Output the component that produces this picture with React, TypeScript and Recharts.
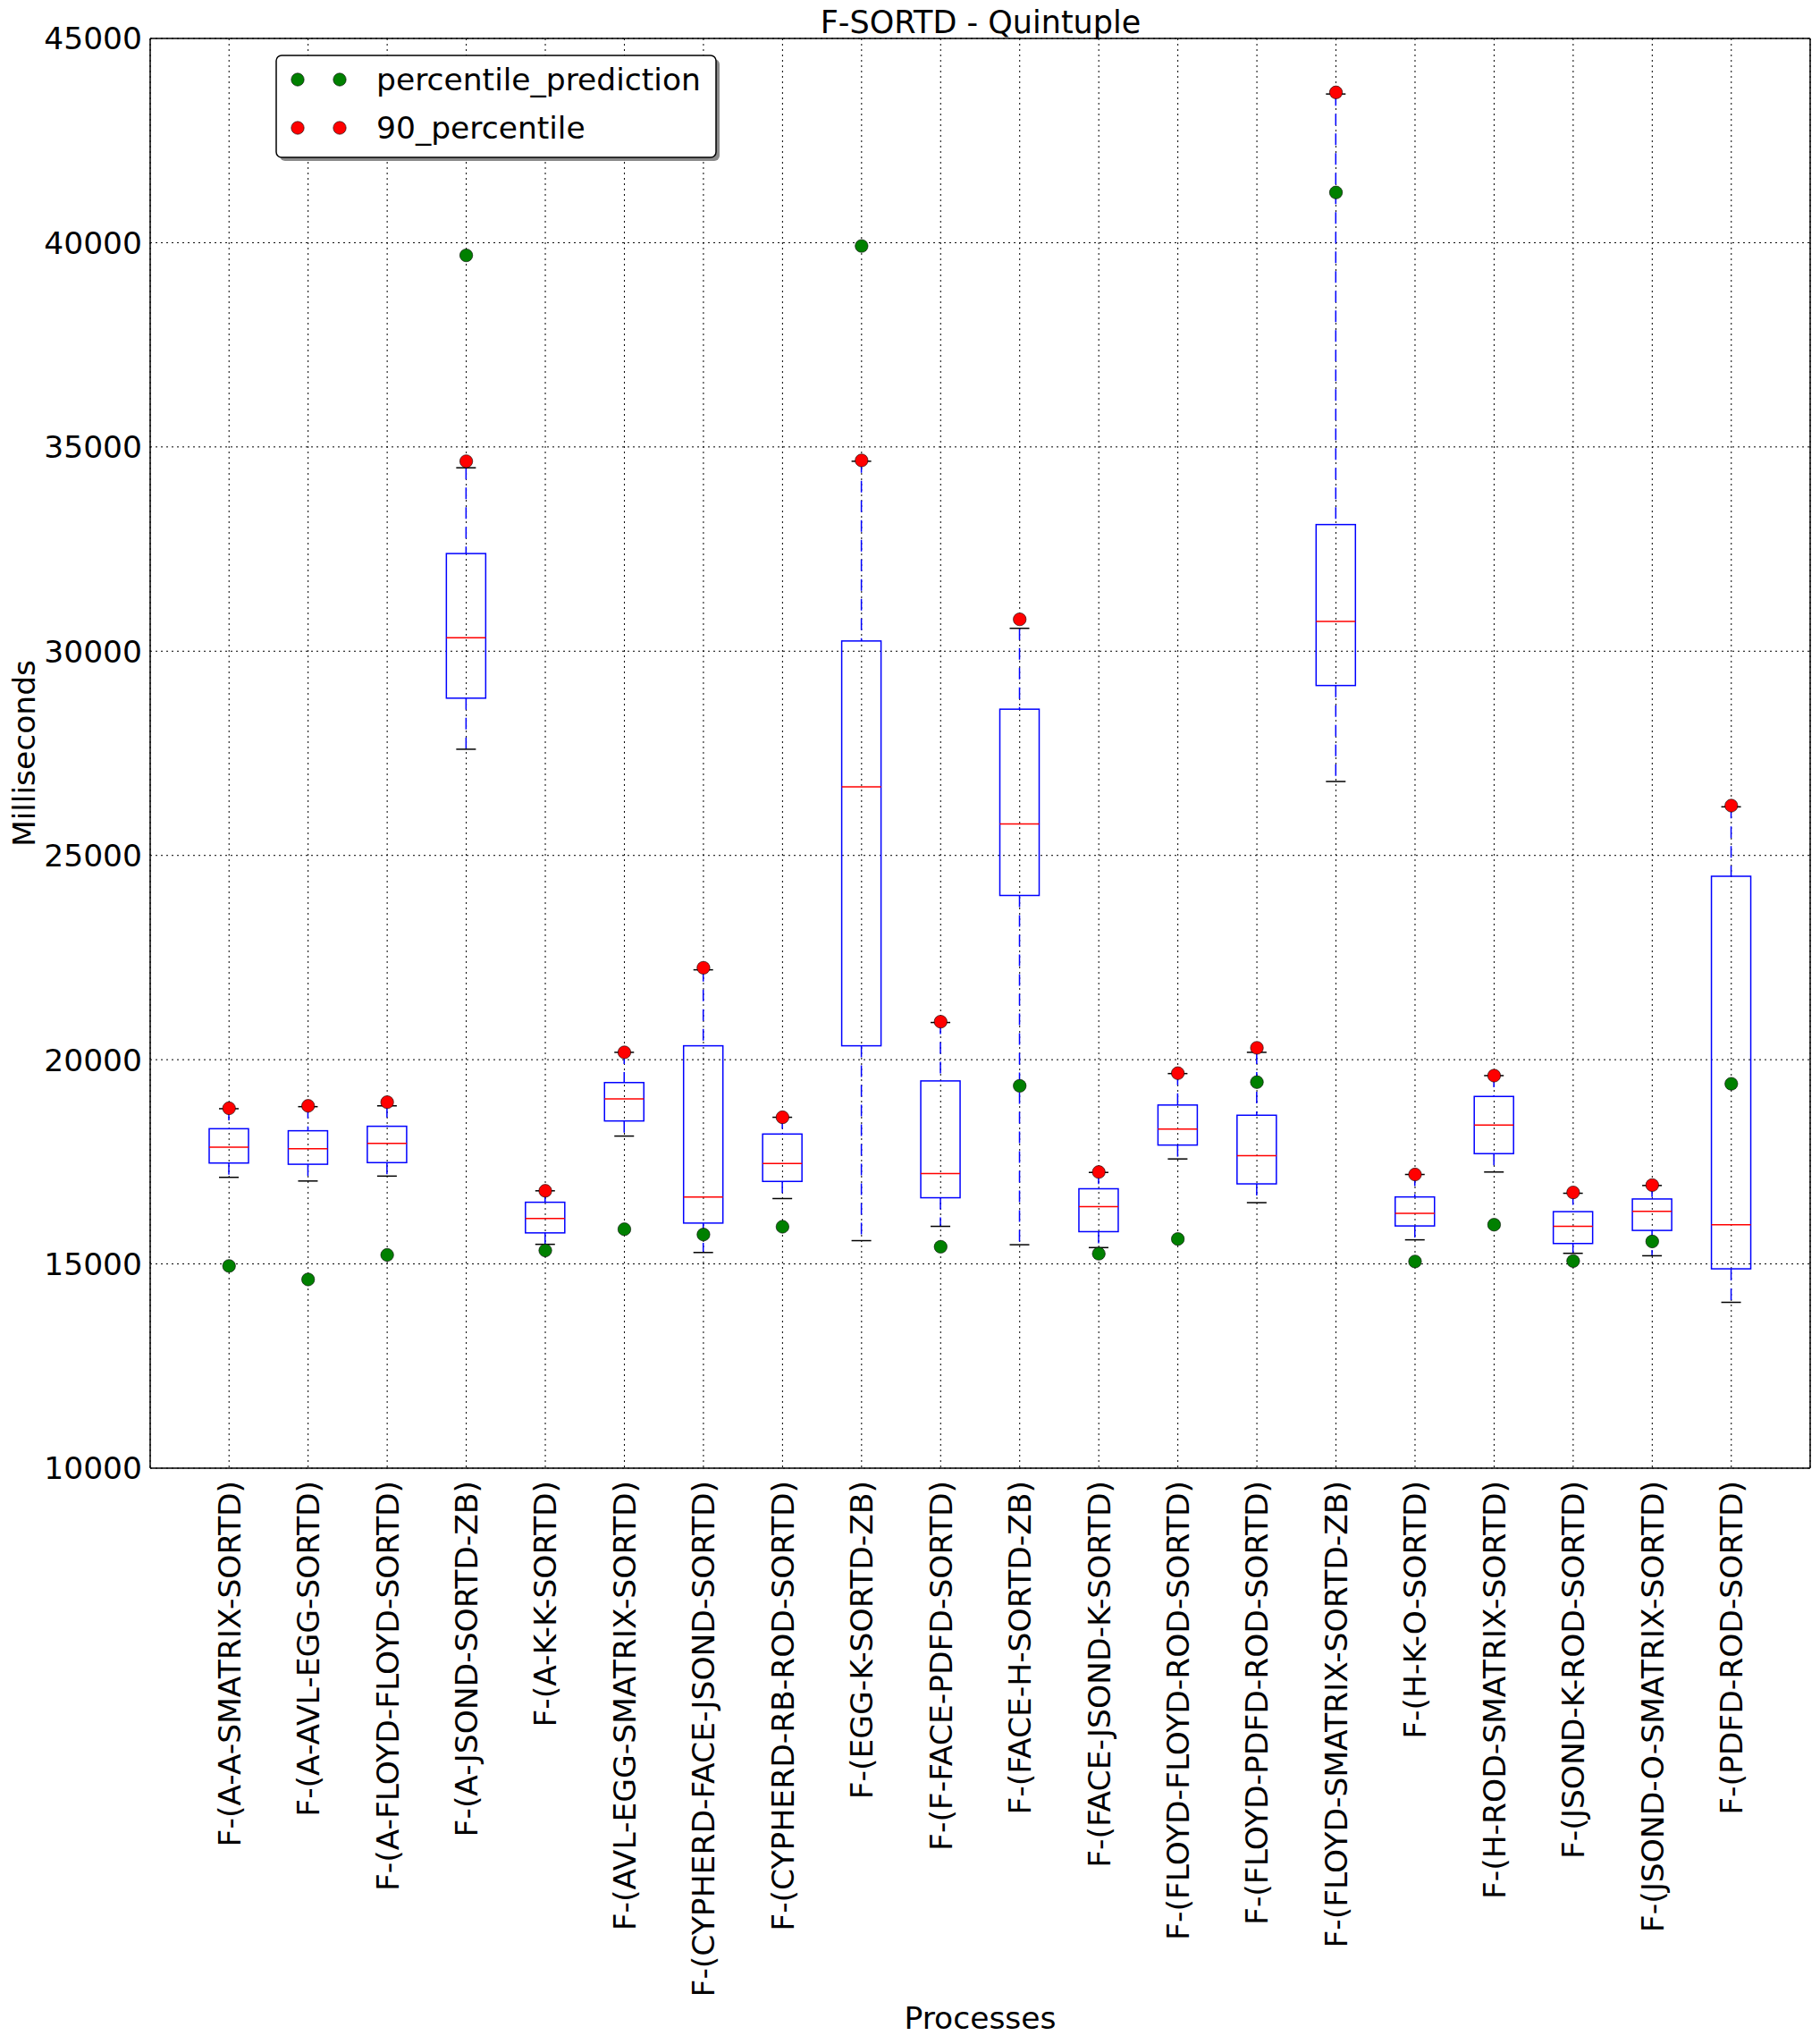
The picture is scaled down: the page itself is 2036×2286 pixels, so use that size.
import React from "react";
import {
  Bar,
  CartesianGrid,
  ComposedChart,
  Label,
  Line,
  XAxis,
  YAxis,
} from "recharts";

const processes = [
  "F-(A-A-SMATRIX-SORTD)",
  "F-(A-AVL-EGG-SORTD)",
  "F-(A-FLOYD-FLOYD-SORTD)",
  "F-(A-JSOND-SORTD-ZB)",
  "F-(A-K-K-SORTD)",
  "F-(AVL-EGG-SMATRIX-SORTD)",
  "F-(CYPHERD-FACE-JSOND-SORTD)",
  "F-(CYPHERD-RB-ROD-SORTD)",
  "F-(EGG-K-SORTD-ZB)",
  "F-(F-FACE-PDFD-SORTD)",
  "F-(FACE-H-SORTD-ZB)",
  "F-(FACE-JSOND-K-SORTD)",
  "F-(FLOYD-FLOYD-ROD-SORTD)",
  "F-(FLOYD-PDFD-ROD-SORTD)",
  "F-(FLOYD-SMATRIX-SORTD-ZB)",
  "F-(H-K-O-SORTD)",
  "F-(H-ROD-SMATRIX-SORTD)",
  "F-(JSOND-K-ROD-SORTD)",
  "F-(JSOND-O-SMATRIX-SORTD)",
  "F-(PDFD-ROD-SORTD)",
];

// box plot stats
const whiskerLow = [17120, 17030, 17150, 27600, 15480, 18130, 15280, 16600, 15570, 15920, 15470, 15400, 17570, 16500, 26810, 15590, 17250, 15260, 15200, 14060];
const q1 = [17470, 17440, 17480, 28850, 15760, 18500, 16000, 17020, 20340, 16620, 24020, 15790, 17910, 16960, 29160, 15930, 17700, 15500, 15820, 14880];
const median = [17860, 17820, 17950, 30330, 16110, 19040, 16640, 17460, 26680, 17210, 25770, 16400, 18300, 17650, 30730, 16240, 18400, 15920, 16290, 15960];
const q3 = [18310, 18260, 18370, 32390, 16510, 19440, 20340, 18180, 30250, 19480, 28580, 16840, 18890, 18640, 33100, 16640, 19100, 16280, 16590, 24490];
const whiskerHigh = [18800, 18850, 18870, 34490, 16790, 20180, 22200, 18590, 34650, 20910, 30560, 17240, 19660, 20180, 43640, 17190, 19610, 16730, 16920, 26190];

const prediction = [14950, 14620, 15220, 39690, 15330, 15850, 15720, 15910, 39920, 15420, 19360, 15250, 15610, 19450, 41230, 15060, 15960, 15070, 15550, 19410];
const percentile90 = [18810, 18870, 18960, 34650, 16790, 20180, 22250, 18590, 34670, 20930, 30780, 17250, 19670, 20290, 43680, 17190, 19610, 16750, 16930, 26220];

const yTicks = [10000, 15000, 20000, 25000, 30000, 35000, 40000, 45000];

const series = [
  { key: "pred", name: "percentile_prediction", color: "#008000" },
  { key: "p90", name: "90_percentile", color: "#ff0000" },
];

const data = processes.map((name, i) => ({
  name,
  range: [whiskerLow[i], whiskerHigh[i]],
  low: whiskerLow[i],
  q1: q1[i],
  median: median[i],
  q3: q3[i],
  high: whiskerHigh[i],
  pred: prediction[i],
  p90: percentile90[i],
}));

const FONT = "DejaVu Sans";
const FS = 34.5;
const DOT_R = 7.2;

const BoxShape = (props: any) => {
  const { x, y, width, height } = props;
  const d = props.payload ?? props;
  const top = Math.min(y, y + height);
  const h = Math.abs(height);
  const span = d.high - d.low || 1;
  const py = (v: number) => top + ((d.high - v) / span) * h;
  const cx = x + width / 2;
  const capW = width / 4;
  return (
    <g>
      <line x1={cx} x2={cx} y1={py(d.high)} y2={py(d.q3)} stroke="#0000ff" strokeWidth={1.5} strokeDasharray="13 9" />
      <line x1={cx} x2={cx} y1={py(d.q1)} y2={py(d.low)} stroke="#0000ff" strokeWidth={1.5} strokeDasharray="13 9" />
      <line x1={cx - capW} x2={cx + capW} y1={py(d.high)} y2={py(d.high)} stroke="#000" strokeWidth={1.5} />
      <line x1={cx - capW} x2={cx + capW} y1={py(d.low)} y2={py(d.low)} stroke="#000" strokeWidth={1.5} />
      <rect x={x} y={py(d.q3)} width={width} height={py(d.q1) - py(d.q3)} fill="none" stroke="#0000ff" strokeWidth={1.5} />
      <line x1={x} x2={x + width} y1={py(d.median)} y2={py(d.median)} stroke="#ff0000" strokeWidth={1.5} />
    </g>
  );
};

const makeDot = (color: string) => (p: any) => (
  <circle key={`${color}-${p.index}`} cx={p.cx} cy={p.cy} r={DOT_R} fill={color} stroke="#000" strokeWidth={0.6} />
);

const XTick = ({ x, y, payload }: any) => (
  <text
    transform={`translate(${x},${y}) rotate(-90)`}
    textAnchor="end"
    dy="0.36em"
    fontSize={FS}
    fontFamily={FONT}
    fill="#000"
  >
    {payload.value}
  </text>
);

const YTick = ({ x, y, payload }: any) => (
  <text x={x} y={y} textAnchor="end" dy="0.36em" fontSize={FS} fontFamily={FONT} fill="#000">
    {payload.value}
  </text>
);

const frameX = ({ offset }: any) => [offset.left, offset.left + offset.width];
const frameY = ({ offset }: any) => [offset.top, offset.top + offset.height];

export default function App() {
  return (
    <div style={{ position: "absolute", left: 0, top: 0, width: 2036, height: 2286, background: "#fff" }}>
      <ComposedChart
        width={2036}
        height={2286}
        data={data}
        margin={{ top: 43, right: 11, bottom: 0, left: 0 }}
      >
        <CartesianGrid stroke="#000" strokeWidth={1} strokeDasharray="2 4" />
        <CartesianGrid
          stroke="#000"
          strokeWidth={1.5}
          horizontalCoordinatesGenerator={frameY}
          verticalCoordinatesGenerator={frameX}
        />
        <XAxis
          dataKey="name"
          type="category"
          interval={0}
          height={644}
          padding={{ left: 44, right: 44 }}
          axisLine={false}
          tickLine={false}
          tickSize={0}
          tickMargin={14}
          tick={<XTick />}
        >
          <Label
            content={({ viewBox }: any) => (
              <text
                x={viewBox.x + viewBox.width / 2}
                y={viewBox.y + viewBox.height - 17}
                textAnchor="middle"
                fontSize={FS}
                fontFamily={FONT}
                fill="#000"
              >
                Processes
              </text>
            )}
          />
        </XAxis>
        <YAxis
          type="number"
          domain={[10000, 45000]}
          ticks={yTicks}
          interval={0}
          width={168}
          axisLine={false}
          tickLine={false}
          tickSize={0}
          tickMargin={9}
          tick={<YTick />}
        >
          <Label
            content={({ viewBox }: any) => (
              <text
                transform={`translate(${viewBox.x + 27},${viewBox.y + viewBox.height / 2}) rotate(-90)`}
                textAnchor="middle"
                dy="0.36em"
                fontSize={FS}
                fontFamily={FONT}
                fill="#000"
              >
                Milliseconds
              </text>
            )}
          />
        </YAxis>
        <Bar
          dataKey="range"
          barSize={44}
          shape={(p: any) => <BoxShape {...p} />}
          isAnimationActive={false}
          legendType="none"
        />
        {series.map((s) => (
          <Line
            key={s.key}
            dataKey={s.key}
            name={s.name}
            stroke="none"
            strokeWidth={0}
            dot={makeDot(s.color)}
            activeDot={false}
            isAnimationActive={false}
          />
        ))}
      </ComposedChart>
      <svg
        width={2036}
        height={2286}
        style={{ position: "absolute", left: 0, top: 0, pointerEvents: "none" }}
      >
        <text x={1097} y={37} textAnchor="middle" fontSize={35} fontFamily={FONT} fill="#000">
          F-SORTD - Quintuple
        </text>
        <rect x={313} y={66} width={492} height={114} rx={6} fill="#8a8a8a" />
        <rect x={309} y={62} width={492} height={114} rx={6} fill="#fff" stroke="#000" strokeWidth={1.5} />
        {series.map((s, i) => (
          <g key={s.key}>
            <circle cx={333} cy={89 + i * 54} r={DOT_R} fill={s.color} stroke="#000" strokeWidth={0.6} />
            <circle cx={380} cy={89 + i * 54} r={DOT_R} fill={s.color} stroke="#000" strokeWidth={0.6} />
            <text x={421} y={89 + i * 54} dy="0.36em" fontSize={FS} fontFamily={FONT} fill="#000">
              {s.name}
            </text>
          </g>
        ))}
      </svg>
    </div>
  );
}
